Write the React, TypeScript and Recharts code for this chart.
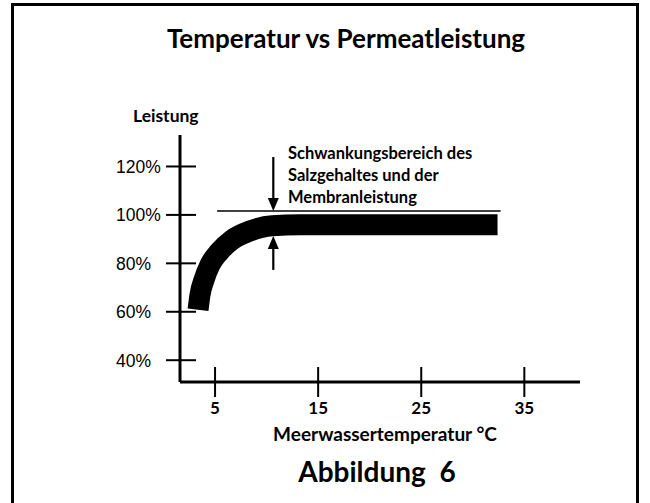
import React from 'react';
import { LineChart, Line, XAxis, YAxis, ReferenceLine } from 'recharts';

// Band centre line (sea-water temperature °C -> relative permeate performance %)
const temperature = [3.35, 3.54, 3.93, 4.51, 5.39, 6.65, 8.4, 10.53, 13.25, 32.4];
const performance = [60.8, 67.0, 73.2, 79.4, 84.7, 89.7, 93.4, 95.5, 95.9, 95.9];

const xTicks = [5, 15, 25, 35];
const yTicks = [40, 60, 80, 100, 120];
const yTickLabels = ['40%', '60%', '80%', '100%', '120%'];

// Upper limit line of the fluctuation range
const limitLevel = 101.6;
const limitStart = 5.2;
const limitEnd = 32.7;

// Arrows marking the fluctuation range
const arrowTemp = 10.65;
const downArrow = [123.9, 101.6];
const upArrow = [77.3, 91.3];

const annotationLines = ['Schwankungsbereich des', 'Salzgehaltes und der', 'Membranleistung'];

const data = temperature.map((t, i) => ({ t, p: performance[i] }));

const HEAD = "Lato, 'Open Sans', sans-serif";

const YTick = (props: any) => {
  const { x, y, payload } = props;
  const idx = yTicks.indexOf(payload.value);
  return (
    <g>
      <line x1={x - 14} x2={x + 16} y1={y} y2={y} stroke="#000" strokeWidth={2} />
      <text x={x - 64} y={y} dy="0.36em" textAnchor="start" fontFamily="'Liberation Sans', Arial, sans-serif" fontSize={17.5} fill="#000">
        {yTickLabels[idx]}
      </text>
    </g>
  );
};

const XTick = (props: any) => {
  const { x, y, payload } = props;
  return (
    <g>
      <line x1={x} x2={x} y1={y - 15} y2={y + 15} stroke="#000" strokeWidth={2} />
      <text x={x} y={y + 32} textAnchor="middle" fontFamily={HEAD} fontWeight={700} fontSize={17} fill="#000">
        {payload.value}
      </text>
    </g>
  );
};

const Arrow = (props: any) => {
  const { x1, y1, x2, y2 } = props;
  const dir = y2 > y1 ? 1 : -1;
  const headLen = 13;
  const headHalf = 5.5;
  return (
    <g>
      <line x1={x1} y1={y1} x2={x2} y2={y2 - dir * headLen} stroke="#000" strokeWidth={2.2} />
      <polygon
        points={`${x2},${y2} ${x2 - headHalf},${y2 - dir * headLen} ${x2 + headHalf},${y2 - dir * headLen}`}
        fill="#000"
      />
    </g>
  );
};

export default function App() {
  return (
    <div style={{ position: 'absolute', left: 0, top: 0, width: 650, height: 503, background: '#fff', overflow: 'hidden' }}>
      <div
        style={{
          position: 'absolute',
          left: 11,
          top: 3,
          width: 622,
          height: 520,
          border: '3px solid #000',
        }}
      />
      <div style={{ position: 'absolute', left: 0, top: 0 }}>
        <LineChart width={650} height={503} data={data} margin={{ top: 135, left: 120, right: 70, bottom: 91 }}>
          <XAxis
            dataKey="t"
            type="number"
            domain={[1.6, 40.4]}
            ticks={xTicks}
            allowDataOverflow
            height={30}
            tickSize={0}
            tickMargin={0}
            tickLine={false}
            axisLine={{ stroke: '#000', strokeWidth: 3 }}
            tick={<XTick />}
            interval={0}
          />
          <YAxis
            type="number"
            domain={[31, 133]}
            ticks={yTicks}
            allowDataOverflow
            width={60}
            tickSize={0}
            tickMargin={0}
            tickLine={false}
            axisLine={{ stroke: '#000', strokeWidth: 3 }}
            tick={<YTick />}
            interval={0}
          />
          <ReferenceLine
            segment={[{ x: limitStart, y: limitLevel }, { x: limitEnd, y: limitLevel }]}
            stroke="#000"
            strokeWidth={1.5}
          />
          <Line
            dataKey="p"
            type="monotone"
            stroke="#000"
            strokeWidth={21}
            dot={false}
            activeDot={false}
            isAnimationActive={false}
            strokeLinecap="butt"
          />
          <ReferenceLine
            segment={[{ x: arrowTemp, y: downArrow[0] }, { x: arrowTemp, y: downArrow[1] }]}
            shape={<Arrow />}
          />
          <ReferenceLine
            segment={[{ x: arrowTemp, y: upArrow[0] }, { x: arrowTemp, y: upArrow[1] }]}
            shape={<Arrow />}
          />
        </LineChart>
      </div>
      <svg width={650} height={503} style={{ position: 'absolute', left: 0, top: 0, pointerEvents: 'none' }}>
        <text x={346} y={48} textAnchor="middle" fontFamily={HEAD} fontWeight={700} fontSize={26} fill="#000">
          Temperatur vs Permeatleistung
        </text>
        <text x={133} y={122} fontFamily={HEAD} fontWeight={700} fontSize={17.5} fill="#000">
          Leistung
        </text>
        {annotationLines.map((s, i) => (
          <text key={i} x={288} y={159 + i * 22} fontFamily={HEAD} fontWeight={700} fontSize={16.5} fill="#000">
            {s}
          </text>
        ))}
        <text x={385} y={441} textAnchor="middle" fontFamily={HEAD} fontWeight={700} fontSize={19} fill="#000">
          Meerwassertemperatur °C
        </text>
        <text x={377} y={482} textAnchor="middle" fontFamily={HEAD} fontWeight={700} fontSize={28} fill="#000" style={{ whiteSpace: 'pre' }}>
          {'Abbildung  6'}
        </text>
      </svg>
    </div>
  );
}
